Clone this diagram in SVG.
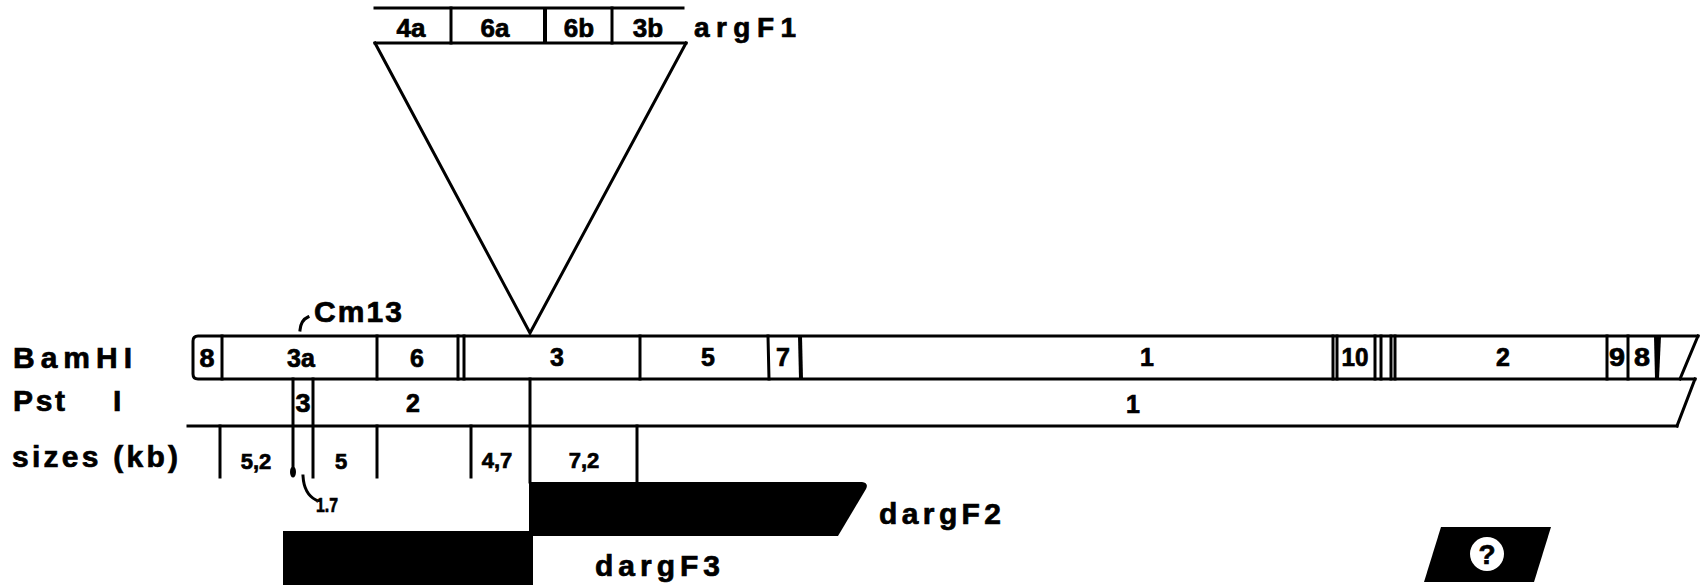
<svg xmlns="http://www.w3.org/2000/svg" width="1705" height="588" viewBox="0 0 1705 588">
<style>
.ln{stroke:#000;stroke-width:3;fill:none;stroke-linecap:square}
.th{stroke:#000;stroke-width:4;fill:none}
.t{font-family:"Liberation Sans",Arial,sans-serif;font-weight:bold;fill:#000;stroke:#000;stroke-width:0.7}
.lb{font-size:25px;text-anchor:middle}
.tp{font-size:26px;text-anchor:middle}
.sz{font-size:22px;text-anchor:middle}
.big{font-size:30px}
.blk{fill:#000}
</style>
<rect width="1705" height="588" fill="#fff"/>
<g id="argF1">
<line class="ln" x1="375" y1="8" x2="683" y2="8"/>
<line class="ln" x1="375" y1="43" x2="686" y2="43"/>
<line class="ln" x1="451" y1="8" x2="451" y2="43"/>
<line class="th" x1="545" y1="8" x2="545" y2="43"/>
<line class="ln" x1="612" y1="8" x2="612" y2="43"/>
<text class="t tp" x="411" y="37">4a</text>
<text class="t tp" x="495" y="37">6a</text>
<text class="t tp" x="579" y="37">6b</text>
<text class="t tp" x="648" y="37">3b</text>
<text class="t" style="font-size:28px" x="694" y="37" textLength="102" lengthAdjust="spacing">argF1</text>
</g>
<g id="insertion">
<polyline class="ln" points="375,43 530,333 686,43" stroke-linejoin="miter"/>
</g>
<g id="row-labels">
<text class="t big" x="13" y="368" textLength="119" lengthAdjust="spacing">BamHI</text>
<text class="t big" x="13" y="411" textLength="63" lengthAdjust="spacing">Pst<tspan x="113">I</tspan></text>
<text class="t big" x="12" y="467" textLength="166" lengthAdjust="spacing">sizes (kb)</text>
</g>
<g id="Cm13">
<path class="ln" d="M300,330 Q301,320 308,317" stroke-linecap="round"/>
<text class="t big" x="314" y="322" textLength="88" lengthAdjust="spacing">Cm13</text>
</g>
<g id="BamHI">
<path class="ln" d="M1698,336 L198,336 Q193,336 193,341 L193,374 Q193,379 198,379 L1695,379"/>
<line class="ln" x1="1698" y1="336" x2="1680" y2="379"/>
<line class="ln" x1="222" y1="336" x2="222" y2="379"/>
<line class="ln" x1="377" y1="336" x2="377" y2="379"/>
<line class="ln" x1="458" y1="336" x2="458" y2="379"/>
<line class="ln" x1="464" y1="336" x2="464" y2="379"/>
<line class="ln" x1="640" y1="336" x2="640" y2="379"/>
<line class="ln" x1="768" y1="336" x2="769" y2="379"/>
<line class="th" x1="800" y1="336" x2="801" y2="379"/>
<line class="ln" x1="1333" y1="336" x2="1333" y2="379"/>
<line class="ln" x1="1337" y1="336" x2="1337" y2="379"/>
<line class="ln" x1="1375" y1="336" x2="1375" y2="379"/>
<line class="ln" x1="1381" y1="336" x2="1381" y2="379"/>
<line class="ln" x1="1391" y1="336" x2="1391" y2="379"/>
<line class="ln" x1="1395" y1="336" x2="1395" y2="379"/>
<line class="ln" x1="1607" y1="336" x2="1607" y2="379"/>
<line class="ln" x1="1628" y1="336" x2="1628" y2="379"/>
<path class="blk" d="M1654,336 L1661,336 L1659,379 L1655,379 Z"/>
<text class="t lb" x="207" y="367" textLength="15" lengthAdjust="spacingAndGlyphs">8</text>
<text class="t lb" x="301" y="367">3a</text>
<text class="t lb" x="417" y="367">6</text>
<text class="t lb" x="557" y="366">3</text>
<text class="t lb" x="708" y="366">5</text>
<text class="t lb" x="783" y="366">7</text>
<text class="t lb" x="1147" y="366">1</text>
<text class="t lb" x="1355" y="366" textLength="27" lengthAdjust="spacingAndGlyphs">10</text>
<text class="t lb" x="1503" y="366">2</text>
<text class="t lb" x="1617" y="366" textLength="16" lengthAdjust="spacingAndGlyphs">9</text>
<text class="t lb" x="1642" y="366" textLength="16" lengthAdjust="spacingAndGlyphs">8</text>
</g>
<g id="PstI">
<line class="ln" x1="1695" y1="379" x2="1677" y2="426"/>
<line class="ln" x1="188" y1="426" x2="1677" y2="426"/>
<line class="ln" x1="293" y1="379" x2="293" y2="474"/>
<line class="ln" x1="313" y1="379" x2="313" y2="477"/>
<line class="ln" x1="530" y1="379" x2="530" y2="482"/>
<text class="t lb" x="303" y="412" textLength="15" lengthAdjust="spacingAndGlyphs">3</text>
<text class="t lb" x="413" y="412">2</text>
<text class="t lb" x="1133" y="413">1</text>
</g>
<g id="sizes">
<line class="ln" x1="220" y1="426" x2="220" y2="477"/>
<ellipse class="blk" cx="293" cy="472" rx="3" ry="5.5"/>
<line class="ln" x1="377" y1="426" x2="377" y2="477"/>
<line class="ln" x1="471" y1="426" x2="471" y2="477"/>
<line class="ln" x1="637" y1="426" x2="637" y2="482"/>
<text class="t sz" x="256" y="469">5,2</text>
<text class="t sz" x="341" y="469">5</text>
<text class="t sz" x="497" y="468">4,7</text>
<text class="t sz" x="584" y="468">7,2</text>
<path class="ln" d="M303,476 Q304,494 316,500" stroke-linecap="round"/>
<text class="t" style="font-size:21px" x="316" y="512" textLength="22" lengthAdjust="spacingAndGlyphs">1.7</text>
</g>
<g id="dargF2">
<path class="blk" d="M529,482 L862,482 Q869,483 866,489 L838,536 L529,536 Z"/>
<text class="t" style="font-size:30px" x="879" y="524" textLength="122" lengthAdjust="spacing">dargF2</text>
</g>
<g id="dargF3">
<rect class="blk" x="283" y="531" width="250" height="54"/>
<text class="t" style="font-size:30px" x="595" y="576" textLength="125" lengthAdjust="spacing">dargF3</text>
</g>
<g id="unknown">
<path class="blk" d="M1441,527 L1551,527 L1534,582 L1424,582 Z"/>
<circle cx="1487" cy="554" r="17" fill="#fff"/>
<text class="t" style="font-size:28px;text-anchor:middle" x="1487" y="564">?</text>
</g>
</svg>
